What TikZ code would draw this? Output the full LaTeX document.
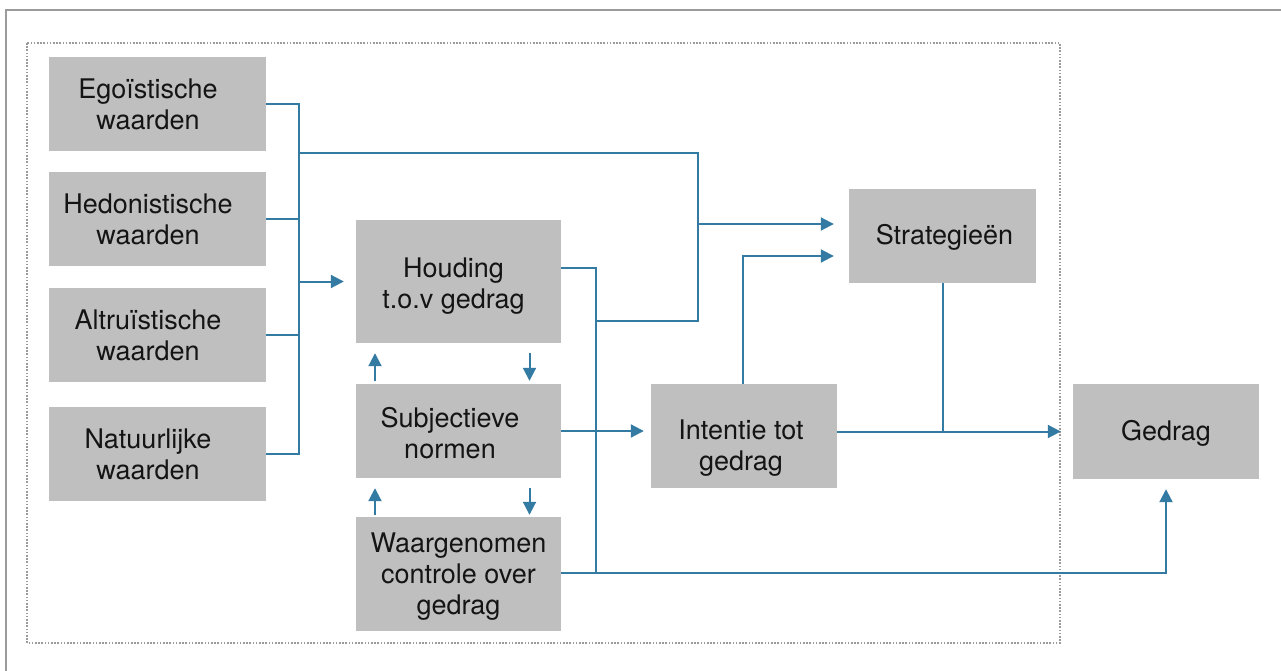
\documentclass[tikz,border=0pt]{standalone}
\usepackage{fontspec}
\setmainfont{TeX Gyre Heros}
\usetikzlibrary{arrows.meta,calc}
\definecolor{boxgray}{RGB}{191,191,191}
\definecolor{linkblue}{RGB}{52,123,163}
\definecolor{framegray}{RGB}{155,155,155}
\definecolor{txt}{RGB}{20,20,20}
\newcommand\padr[1]{\hspace*{#1}}
\newcommand\lift[1]{\rule{0pt}{#1}}
\tikzset{
  box/.style={fill=boxgray, draw=none, inner sep=0pt, align=center, text=txt,
    font=\fontsize{27}{31}\selectfont},
  conn/.style={draw=linkblue, line width=2pt},
  arr/.style={conn, -{Triangle[length=13pt,width=13pt]}},
}
\begin{document}
\begin{tikzpicture}[x=1pt,y=-1pt]
\useasboundingbox (0,0) rectangle (1281,671);
% frames
\draw[framegray, line width=2.5pt] (6,671) -- (6,10) -- (1281,10);
\draw[framegray, line width=1.6pt, dash pattern=on 1.6pt off 1.6pt] (27,43) rectangle (1060,643);
% boxes
\node[box, minimum width=217pt, minimum height=94pt] (ego) at (157.5,104) {Egoïstische\padr{19pt}\\waarden\padr{19pt}};
\node[box, minimum width=217pt, minimum height=94pt] (hed) at (157.5,219) {Hedonistische\padr{19pt}\\waarden\padr{19pt}};
\node[box, minimum width=217pt, minimum height=94pt] (alt) at (157.5,335) {Altruïstische\padr{19pt}\\waarden\padr{19pt}};
\node[box, minimum width=217pt, minimum height=94pt] (nat) at (157.5,454) {Natuurlijke\padr{19pt}\\waarden\padr{19pt}};
\node[box, minimum width=205pt, minimum height=123pt] (hou) at (458.5,281.5) {\lift{28pt}Houding\padr{10pt}\\t.o.v gedrag\padr{10pt}};
\node[box, minimum width=205pt, minimum height=94pt] (sub) at (458.5,431) {\lift{24pt}Subjectieve\padr{17pt}\\normen\padr{17pt}};
\node[box, minimum width=205pt, minimum height=114pt] (waa) at (458.5,574) {\lift{25pt}Waargenomen\\controle over\\gedrag};
\node[box, minimum width=186pt, minimum height=104pt] (int) at (744,436) {\lift{43pt}Intentie tot\padr{6pt}\\gedrag\padr{6pt}};
\node[box, minimum width=187pt, minimum height=94pt] (str) at (942.5,236) {\lift{23pt}\hspace*{4pt}Strategieën};
\node[box, minimum width=186pt, minimum height=95pt] (ged) at (1166,431.5) {\lift{24pt}Gedrag};
% helper coordinates
\coordinate (bus) at (299,153);
\coordinate (jtop) at (698,153);
\coordinate (jstr) at (698,224);
\coordinate (jbot) at (698,321);
\coordinate (hout) at (561,268);
\coordinate (vtop) at (596,268);
\coordinate (vmid) at (596,321);
\coordinate (vbot) at (596,573);
% value bus
\draw[conn] (ego.east) -| (bus |- nat.east) -- (nat.east);
\draw[conn] (hed.east) -- (hed.east -| bus);
\draw[conn] (alt.east) -- (alt.east -| bus);
\draw[arr, shorten >=12pt] (bus |- hou.west) -- (hou.west);
\draw[conn] (bus) -- (jtop) -- (jbot) -- (vmid);
\draw[arr, shorten >=15pt] (jstr) -- (str.west |- jstr);
% houding output
\draw[conn] (hout) -- (vtop) -- (vbot);
% intentie up to strategieen
\draw[arr, shorten >=15pt] ([xshift=-1pt]int.north) |- ($(str.west)+(0,20)$);
% subjectieve to intentie
\draw[arr, shorten >=7pt] (sub.east) -- (int.west |- sub.east);
% intentie to gedrag
\draw[arr, shorten >=12pt] (int.east |- ged.west) -- (ged.west);
\draw[conn] (str.south) -- (str.south |- ged.west);
% waargenomen to gedrag
\draw[arr, shorten >=10pt] (waa.east |- vbot) -| (ged.south);
% small arrows between the stacked boxes
\draw[arr] ([xshift=71pt,yshift=-10pt]hou.south) -- ([xshift=71pt,yshift=3pt]sub.north);
\draw[arr] ([xshift=-83.5pt,yshift=3pt]sub.north) -- ([xshift=-83.5pt,yshift=-10pt]hou.south);
\draw[arr] ([xshift=71pt,yshift=-10pt]sub.south) -- ([xshift=71pt,yshift=2pt]waa.north);
\draw[arr] ([xshift=-83.5pt,yshift=2pt]waa.north) -- ([xshift=-83.5pt,yshift=-10pt]sub.south);
\end{tikzpicture}
\end{document}
